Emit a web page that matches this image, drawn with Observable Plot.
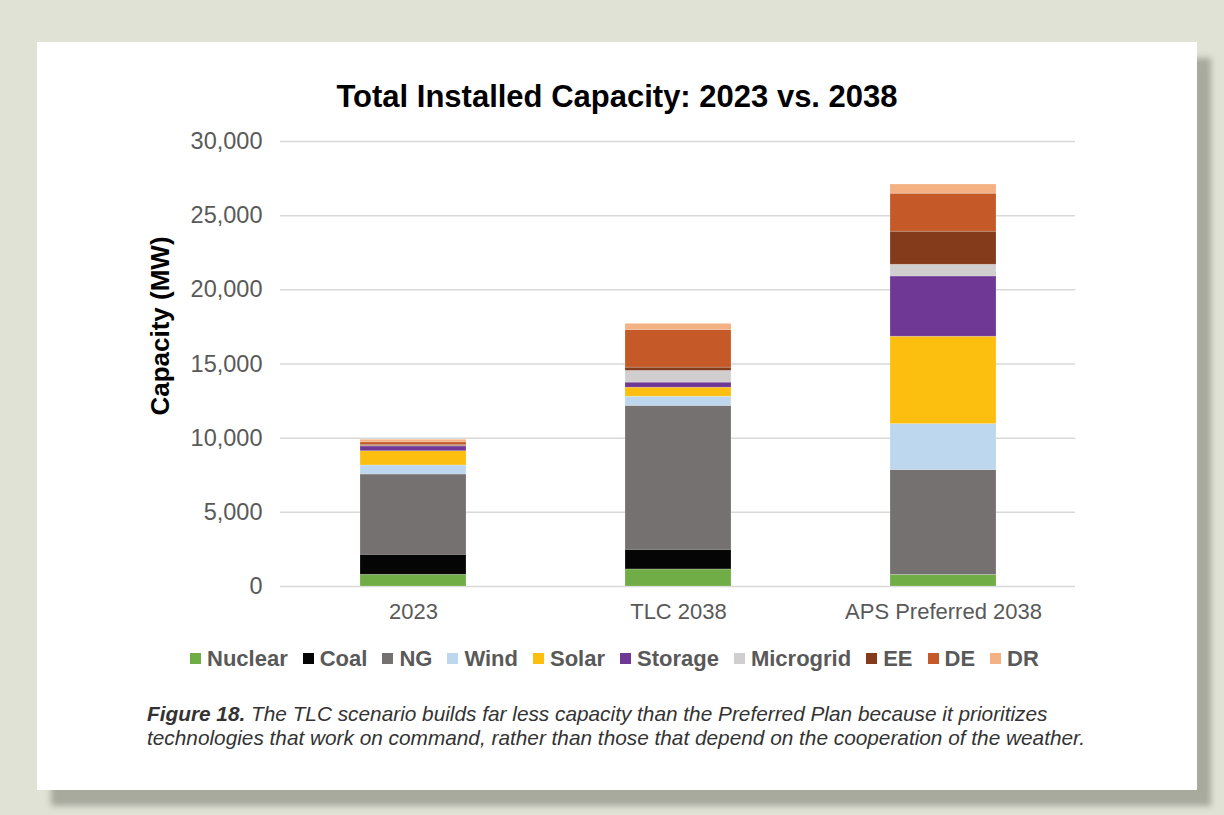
<!DOCTYPE html>
<html>
<head>
<meta charset="utf-8">
<script src="https://cdn.jsdelivr.net/npm/d3@7"></script>
<script src="https://cdn.jsdelivr.net/npm/@observablehq/plot@0.6"></script>
<style>
  html, body { margin: 0; padding: 0; }
  body { width: 1224px; height: 815px; background: #e1e2d6; position: relative; overflow: hidden; font-family: "Liberation Sans", Arial, sans-serif; }
  #card { position: absolute; left: 37px; top: 42px; width: 1160px; height: 748px; background: #fff; box-shadow: 14px 16px 6px #a9aa9e; }
  #title { position: absolute; left: 0; width: 1160px; top: 37px; text-align: center; font-weight: bold; font-size: 31px; color: #000; }
  #chart { position: absolute; left: 0; top: 80px; }
  #legend { position: absolute; left: 153px; top: 600px; }
  .leg-swatch { margin-right: 15px !important; font-size: 22px; font-weight: bold; color: #595959; }
  .leg-swatch > svg { margin-right: 6px !important; }
  #caption { position: absolute; left: 110px; top: 660px; font-style: italic; font-size: 20.8px; color: #333; line-height: 24px; }
</style>
</head>
<body>
<div id="card">
  <div id="title">Total Installed Capacity: 2023 vs. 2038</div>
  <div id="chart"></div>
  <div id="legend"></div>
  <div id="caption"><b>Figure 18.</b> The TLC scenario builds far less capacity than the Preferred Plan because it prioritizes<br>technologies that work on command, rather than those that depend on the cooperation of the weather.</div>
</div>
<script>
const scenarios = ["2023", "TLC 2038", "APS Preferred 2038"];
const technologies = ["Nuclear", "Coal", "NG", "Wind", "Solar", "Storage", "Microgrid", "EE", "DE", "DR"];
const colors = ["#70ad47", "#050505", "#767171", "#bdd7ee", "#fcbf10", "#6f3895", "#d0cece", "#843b1c", "#c55a28", "#f4b183"];
// MW by technology, one value per scenario
const nuclear   = [790, 1150, 780];
const coal      = [1350, 1325, 0];
const ng        = [5410, 9700, 7070];
const wind      = [610, 620, 3100];
const solar     = [960, 610, 5890];
const storage   = [320, 340, 4060];
const microgrid = [30, 790, 790];
const ee        = [80, 220, 2230];
const de        = [170, 2540, 2560];
const dr        = [170, 410, 620];
const yTicks = [0, 5000, 10000, 15000, 20000, 25000, 30000];

const series = [nuclear, coal, ng, wind, solar, storage, microgrid, ee, de, dr];
const data = [];
technologies.forEach((t, i) => scenarios.forEach((s, j) => data.push({scenario: s, tech: t, value: series[i][j]})));

const colorScale = {domain: technologies, range: colors};

const chart = Plot.plot({
  width: 1160,
  height: 504,
  marginTop: 19,
  marginBottom: 40,
  marginLeft: 243,
  marginRight: 122,
  style: {fontFamily: "Liberation Sans, Arial, sans-serif", background: "transparent"},
  x: {domain: scenarios, paddingInner: 0.6, paddingOuter: 0.3, label: null},
  y: {domain: [0, 30000], label: null},
  color: colorScale,
  marks: [
    Plot.gridY(yTicks, {stroke: "#d9d9d9", strokeOpacity: 1, strokeWidth: 1.5}),
    Plot.barY(data, {x: "scenario", y: "value", fill: "tech", order: technologies, stroke: "#fff", strokeOpacity: 0.25, strokeWidth: 0.75}),
    Plot.axisY(yTicks, {tickSize: 0, tickPadding: 18, tickFormat: d3.format(","), fontSize: 23.5, fill: "#595959", label: null}),
    Plot.axisX({tickSize: 0, tickPadding: 17, fontSize: 22, fill: "#595959", label: null}),
    Plot.text(["Capacity (MW)"], {frameAnchor: "left", textAnchor: "middle", dx: -120, dy: -38, rotate: -90, fontSize: 26, fontWeight: "bold", fill: "#000"})
  ]
});
document.getElementById("chart").appendChild(chart);

const legend = Plot.legend({color: colorScale, legend: "swatches", swatchSize: 11, className: "leg", style: {fontFamily: "Liberation Sans, Arial, sans-serif"}});
document.getElementById("legend").appendChild(legend);
</script>
</body>
</html>
